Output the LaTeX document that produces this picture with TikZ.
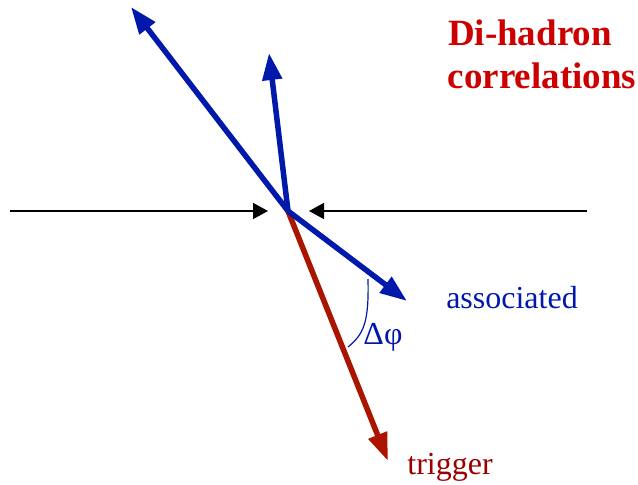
\documentclass[tikz,border=0pt]{standalone}
\usepackage{fontspec}
\setmainfont{Liberation Serif}
\usetikzlibrary{arrows.meta}
\definecolor{jetblue}{RGB}{0,25,170}
\definecolor{trigred}{RGB}{170,20,0}
\definecolor{trigtext}{RGB}{153,0,0}
\definecolor{titlered}{RGB}{204,0,0}
\begin{document}
\begin{tikzpicture}[x=1pt,y=-1pt,
  beam/.style={line width=1.5pt,-{Triangle[length=15pt,width=16pt]}},
  jet/.style={line width=5.5pt,jetblue,-{Triangle[length=27pt,width=19pt]}},
  trig/.style={line width=5.5pt,trigred,-{Triangle[length=28pt,width=19pt]}},
  lbl/.style={font=\fontsize{32}{36}\selectfont,inner sep=0pt},
  ttl/.style={font=\fontsize{37}{40}\selectfont\bfseries,text=titlered,inner sep=0pt}]
\useasboundingbox (0,0) rectangle (638,485);
\coordinate (O) at (288,211);
\coordinate (L) at (10,211);
\coordinate (R) at (587,211);
\coordinate (Lt) at (268,211);
\coordinate (Rt) at (309,211);
\coordinate (A1) at (131,7);
\coordinate (A2) at (269,53);
\coordinate (A3) at (407,301);
\coordinate (T) at (388,461);
\coordinate (c1) at (368,279);
\coordinate (c2) at (348,347);
\draw[beam] (L) -- (Lt);
\draw[beam] (R) -- (Rt);
\draw[trig] (O) -- (T);
\draw[jet] (O) -- (A1);
\draw[jet] (O) -- (A2);
\draw[jet] (O) -- (A3);
\draw[jetblue,line width=1.2pt] (c1) .. controls (369,322) and (364,334) .. (c2);
\node[lbl,text=jetblue] (dphi) at (383,337) {Δφ};
\node[lbl,text=jetblue] (assoc) at (512,298) {associated};
\node[lbl,text=trigtext] (trigger) at (450,467) {trigger};
\node[ttl] (t1) at (530,33) {Di-hadron};
\node[ttl] (t2) at (542,76) {correlations};
\end{tikzpicture}
\end{document}
